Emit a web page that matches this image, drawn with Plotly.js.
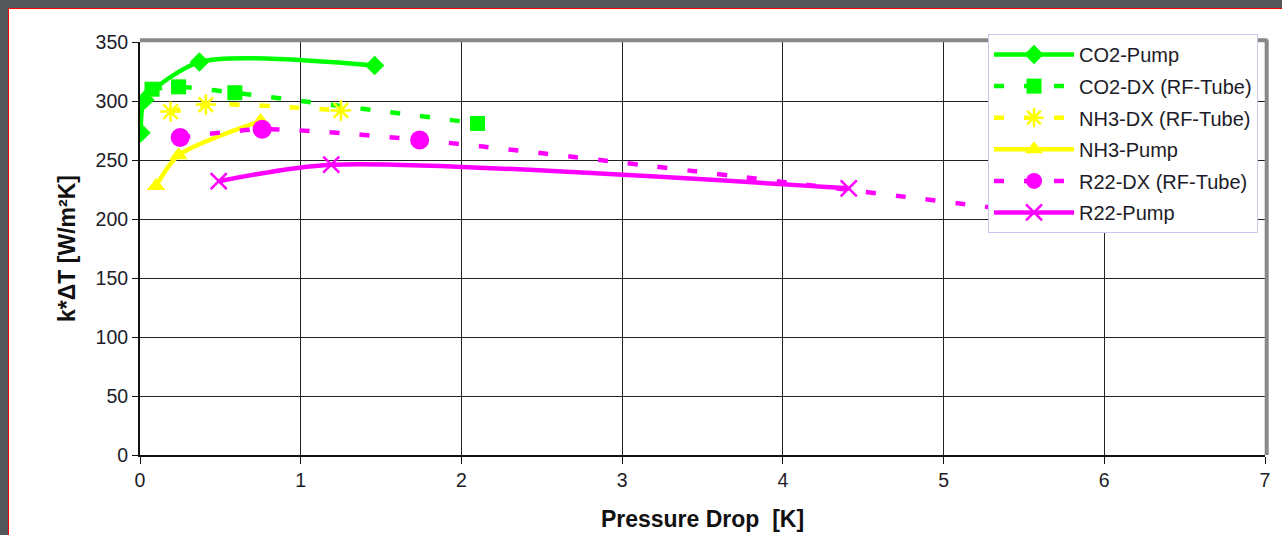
<!DOCTYPE html>
<html>
<head>
<meta charset="utf-8">
<script src="https://cdn.plot.ly/plotly-3.0.1.min.js"></script>
<style>
html,body{margin:0;padding:0;background:#53575a;width:1282px;height:535px;overflow:hidden;}
#frame{position:absolute;left:8px;top:8px;width:1274px;height:527px;border-left:1px solid #ff0000;border-top:1px solid #ff0000;background:#fff;box-sizing:border-box;}
#chart{position:absolute;left:0;top:0;width:1273px;height:526px;}
</style>
</head>
<body>
<div id="frame"><div id="chart"></div></div>
<script>
// Data
const co2PumpX = [0.006, 0.03, 0.37, 1.46];
const co2PumpY = [273, 301, 333, 330];

const co2DxX = [0.075, 0.24, 0.59, 2.10];
const co2DxY = [310, 312, 307, 281];

const nh3DxX = [0.19, 0.41, 1.25];
const nh3DxY = [291, 297, 292];

const nh3PumpX = [0.10, 0.24, 0.75];
const nh3PumpY = [228, 254, 283];

const r22DxX = [0.25, 0.76, 1.74, 5.88];
const r22DxY = [269, 276, 267, 200];

const r22PumpX = [0.49, 1.19, 4.41];
const r22PumpY = [232, 246, 226];

const seriesNames = ["CO2-Pump", "CO2-DX (RF-Tube)", "NH3-DX (RF-Tube)", "NH3-Pump", "R22-DX (RF-Tube)", "R22-Pump"];

const xTicks = [0, 1, 2, 3, 4, 5, 6, 7];
const yTicks = [0, 50, 100, 150, 200, 250, 300, 350];

const GREEN = "#00ff00", YELLOW = "#ffff00", MAGENTA = "#ff00ff";
const DASH = "10px,20px";
const SM = 0.75;

const traces = [
  {x: co2PumpX, y: co2PumpY, name: seriesNames[0], legendgroup: "g1", mode: "lines+markers",
   line: {color: GREEN, width: 4.5, shape: "spline", smoothing: SM},
   marker: {symbol: "diamond", size: 15, color: GREEN}},
  {x: co2DxX, y: co2DxY, name: seriesNames[1], legendgroup: "g2", mode: "lines+markers",
   line: {color: GREEN, width: 4.5, dash: DASH, shape: "spline", smoothing: SM},
   marker: {symbol: "square", size: 15, color: GREEN}},
  {x: nh3DxX, y: nh3DxY, name: seriesNames[2], legendgroup: "g3", mode: "lines+markers",
   line: {color: YELLOW, width: 4.5, dash: DASH, shape: "spline", smoothing: SM},
   marker: {symbol: "asterisk-open", size: 17, color: YELLOW, line: {color: YELLOW, width: 2.5}}},
  {x: nh3PumpX, y: nh3PumpY, name: seriesNames[3], legendgroup: "g4", mode: "lines+markers",
   line: {color: YELLOW, width: 4.5, shape: "spline", smoothing: SM},
   marker: {symbol: "triangle-up", size: 16, color: YELLOW}},
  {x: r22DxX, y: r22DxY, name: seriesNames[4], legendgroup: "g5", mode: "lines+markers",
   line: {color: MAGENTA, width: 4.5, dash: DASH, shape: "spline", smoothing: SM},
   marker: {symbol: "circle", size: 19, color: MAGENTA}},
  {x: r22PumpX, y: r22PumpY, name: seriesNames[5], legendgroup: "g6", mode: "lines+markers",
   line: {color: MAGENTA, width: 4.5, shape: "spline", smoothing: SM},
   marker: {symbol: "x-thin-open", size: 16, color: MAGENTA, line: {color: MAGENTA, width: 2.5}}}
];

const FONT = "Liberation Sans, Arial, sans-serif";

const layout = {
  width: 1273, height: 526,
  margin: {l: 131, r: 17, t: 33, b: 80, pad: 0},
  paper_bgcolor: "#ffffff", plot_bgcolor: "#ffffff",
  font: {family: FONT, color: "#1c1c28", size: 19},
  showlegend: true,
  legend: {
    x: 0.7538, y: 1.0194, xanchor: "left", yanchor: "top",
    bgcolor: "#ffffff", bordercolor: "#c8c8f0", borderwidth: 1,
    font: {size: 20, color: "#1c1c28"},
    itemwidth: 80, tracegroupgap: 2.6, traceorder: "grouped"
  },
  xaxis: {
    range: [0, 7], tickvals: xTicks, ticktext: xTicks.map(String),
    showgrid: true, gridcolor: "#222", gridwidth: 1,
    zeroline: false, showline: true, linecolor: "#111", linewidth: 2,
    ticks: "outside", ticklen: 7, tickcolor: "#111",
    tickfont: {size: 19.5},
    title: {text: "Pressure Drop  [K]", font: {size: 23, family: FONT, weight: "bold", color: "#111"}, standoff: 20}
  },
  yaxis: {
    range: [0, 350], tickvals: yTicks, ticktext: yTicks.map(String),
    showgrid: true, gridcolor: "#222", gridwidth: 1,
    zeroline: false, showline: true, linecolor: "#111", linewidth: 2,
    ticks: "outside", ticklen: 6, tickcolor: "#111",
    tickfont: {size: 19.5},
    title: {text: "k*ΔT [W/m²K]", font: {size: 23, family: FONT, weight: "bold", color: "#111"}, standoff: 14}
  },
  shapes: [
    {type: "line", xref: "paper", yref: "paper", x0: 0, x1: 1.002, y0: 1.004, y1: 1.004, line: {color: "#888888", width: 4}},
    {type: "line", xref: "paper", yref: "paper", x0: 1.0015, x1: 1.0015, y0: 0, y1: 1.006, line: {color: "#888888", width: 4}}
  ]
};

Plotly.newPlot("chart", traces, layout, {displayModeBar: false, staticPlot: true});
</script>
</body>
</html>
